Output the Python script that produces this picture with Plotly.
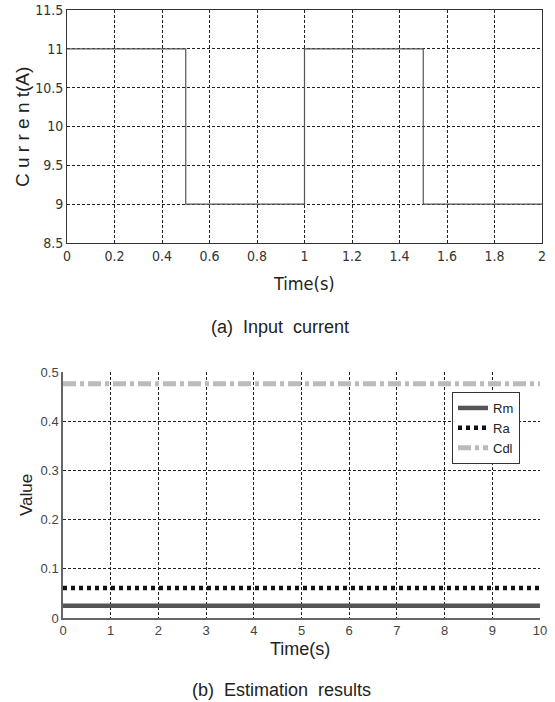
import plotly.graph_objects as go

# ---- data ----
t_current = [0, 0.5, 1.0, 1.5, 2.0]
current = [11, 9, 11, 9, 9]

t_est = [0, 10]
rm = [0.025, 0.025]
ra = [0.061, 0.061]
cdl = [0.476, 0.476]

top_xticks = [0, 0.2, 0.4, 0.6, 0.8, 1, 1.2, 1.4, 1.6, 1.8, 2]
top_yticks = [8.5, 9, 9.5, 10, 10.5, 11, 11.5]
bot_xticks = list(range(0, 11))
bot_yticks = [0, 0.1, 0.2, 0.3, 0.4, 0.5]

W, H = 555, 702
NARROW = "DejaVu Sans Condensed, Liberation Sans Narrow, Liberation Sans, Arial, sans-serif"
ARIAL = "Liberation Sans, Arial, sans-serif"

def px(x):
    return x / W

def py(y):
    return 1 - y / H

fig = go.Figure()

fig.add_trace(go.Scatter(x=t_current, y=current, mode="lines", line_shape="hv",
                         line=dict(color="#555555", width=1.2), showlegend=False,
                         xaxis="x", yaxis="y"))

fig.add_trace(go.Scatter(x=t_est, y=rm, mode="lines", name="Rm",
                         line=dict(color="#555555", width=4.5),
                         xaxis="x2", yaxis="y2"))
fig.add_trace(go.Scatter(x=t_est, y=ra, mode="lines", name="Ra",
                         line=dict(color="#111111", width=4.5, dash="4px,4px"),
                         xaxis="x2", yaxis="y2"))
fig.add_trace(go.Scatter(x=t_est, y=cdl, mode="lines", name="Cdl",
                         line=dict(color="#bbbbbb", width=5, dash="13px,4px,4px,4px"),
                         xaxis="x2", yaxis="y2"))

grid = dict(showgrid=True, gridcolor="#222222", gridwidth=1, griddash="3px,2px",
            zeroline=False, ticks="")

fig.update_layout(
    width=W, height=H,
    margin=dict(l=0, r=0, t=0, b=0, autoexpand=False),
    paper_bgcolor="white", plot_bgcolor="white",
    xaxis=dict(domain=[px(67), px(542)], range=[0, 2], tickvals=top_xticks,
               ticktext=[("%g" % v) for v in top_xticks],
               showline=True, linecolor="#333333", linewidth=1, mirror=True,
               tickfont=dict(family=NARROW, size=14, color="#333333"),
               anchor="y", **grid),
    yaxis=dict(domain=[py(243), py(10)], range=[8.5, 11.5], tickvals=top_yticks,
               ticktext=[("%g" % v) for v in top_yticks],
               showline=True, linecolor="#333333", linewidth=1, mirror=True,
               tickfont=dict(family=NARROW, size=14, color="#333333"),
               anchor="x", **grid),
    xaxis2=dict(domain=[px(63), px(540)], range=[0, 10], tickvals=bot_xticks,
                showline=True, linecolor="#666666", linewidth=1.5, mirror=False,
                tickfont=dict(family=ARIAL, size=13, color="#444444"),
                anchor="y2", **grid),
    yaxis2=dict(domain=[py(618), py(372)], range=[0, 0.5], tickvals=bot_yticks,
                ticktext=[("%g" % v) for v in bot_yticks],
                showline=True, linecolor="#666666", linewidth=1.5, mirror=False,
                tickfont=dict(family=ARIAL, size=13, color="#444444"),
                anchor="x2", **grid),
    legend=dict(x=px(452), y=py(392), xanchor="left", yanchor="top",
                bgcolor="white", bordercolor="#333333", borderwidth=1,
                font=dict(family=ARIAL, size=13, color="#222222"),
                tracegroupgap=0),
    showlegend=True,
)

ann = [
    dict(text="C u r r e n t(A)", x=px(23), y=py(127), textangle=-90,
         font=dict(family=ARIAL, size=19, color="#222222")),
    dict(text="Time(s)", x=px(304), y=py(283),
         font=dict(family=NARROW, size=18, color="#222222")),
    dict(text="(a)  Input  current", x=px(280), y=py(327),
         font=dict(family=ARIAL, size=18, color="#222222")),
    dict(text="Value", x=px(26), y=py(495), textangle=-90,
         font=dict(family=ARIAL, size=17, color="#222222")),
    dict(text="Time(s)", x=px(300), y=py(649),
         font=dict(family=ARIAL, size=18, color="#222222")),
    dict(text="(b)  Estimation  results", x=px(281), y=py(690),
         font=dict(family=ARIAL, size=18, color="#222222")),
]
for a in ann:
    a.update(xref="paper", yref="paper", showarrow=False,
             xanchor="center", yanchor="middle")
fig.update_layout(annotations=ann)

fig.write_html(
    "out.html",
    config={"displayModeBar": False},
    post_script="document.body.style.margin='0';document.body.style.overflow='hidden';",
)
